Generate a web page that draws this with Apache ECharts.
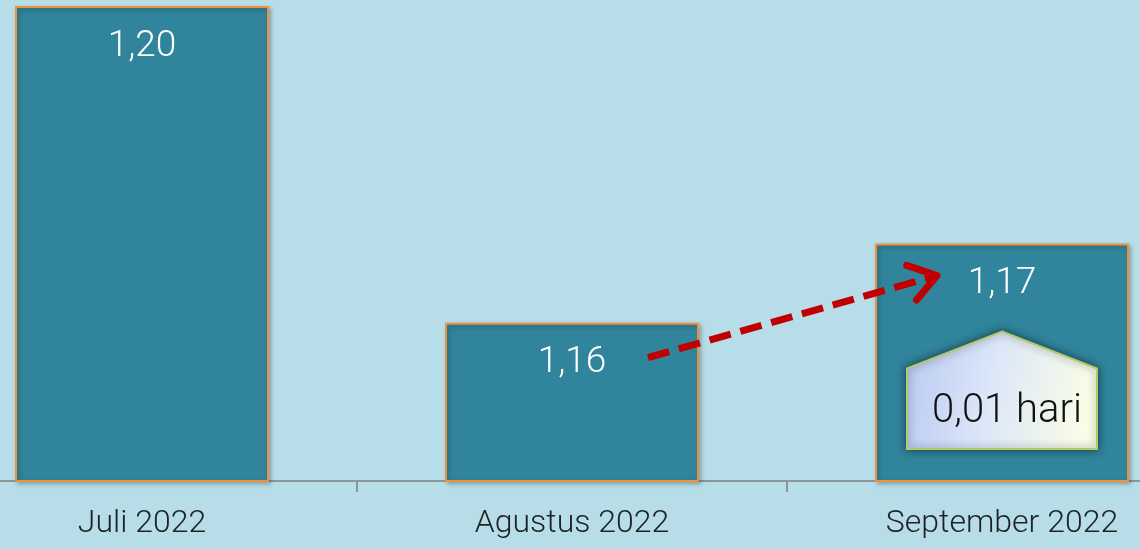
<!DOCTYPE html>
<html>
<head>
<meta charset="utf-8">
<script src="https://cdn.jsdelivr.net/npm/echarts@6/dist/echarts.min.js"></script>
<style>
html, body { margin: 0; padding: 0; background: #b7dee8; }
#main { width: 1140px; height: 549px; }
</style>
</head>
<body>
<div id="main"></div>
<script>
// data
var categories = ['Juli 2022', 'Agustus 2022', 'September 2022'];
var values = [1.20, 1.16, 1.17];
var yMin = 1.14;
var yMax = 1.20;
var changeText = '0,01 hari';

function fmt(v) {
    return v.toFixed(2).replace('.', ',');
}

var chartDom = document.getElementById('main');
var myChart = echarts.init(chartDom);
var option = {
    backgroundColor: '#b7dee8',
    animation: false,
    grid: { left: -73, right: -77, top: 6, bottom: 68, outerBoundsMode: 'none', containLabel: false },
    xAxis: {
        type: 'category',
        data: categories,
        axisLine: { lineStyle: { color: '#8c9698', width: 2 } },
        axisTick: { show: true, length: 11, lineStyle: { color: '#8c9698', width: 2 } },
        axisLabel: {
            color: '#1e2224',
            fontFamily: 'Roboto',
            fontWeight: 300,
            fontSize: 32,
            margin: 27
        }
    },
    yAxis: {
        type: 'value',
        min: yMin,
        max: yMax,
        show: false,
        splitLine: { show: false }
    },
    series: [
        {
            type: 'bar',
            data: values,
            barWidth: 254,
            itemStyle: {
                color: '#30849b',
                borderColor: '#f0903c',
                borderWidth: 2,
                shadowColor: 'rgba(0,0,0,0.25)',
                shadowBlur: 4,
                shadowOffsetX: 2,
                shadowOffsetY: 2
            },
            label: {
                show: true,
                position: 'insideTop',
                distance: 22,
                color: '#ffffff',
                fontFamily: 'Roboto',
                fontWeight: 300,
                fontSize: 37,
                formatter: function (p) { return fmt(p.value); }
            }
        }
    ]
};
option && myChart.setOption(option);

// annotations placed from the bar positions
var pA = myChart.convertToPixel({ seriesIndex: 0 }, [1, values[1]]);
var pS = myChart.convertToPixel({ seriesIndex: 0 }, [2, values[2]]);
var base = myChart.convertToPixel({ seriesIndex: 0 }, [2, yMin]);

var start = [pA[0] + 76, pA[1] + 35];
var tip = [pS[0] - 65, pS[1] + 32];
var ang = Math.atan2(tip[1] - start[1], tip[0] - start[0]);
var wing = 32, spread = 0.6;
var w1 = [tip[0] - wing * Math.cos(ang - spread), tip[1] - wing * Math.sin(ang - spread)];
var w2 = [tip[0] - wing * Math.cos(ang + spread), tip[1] - wing * Math.sin(ang + spread)];
var lineEnd = [tip[0] - 6 * Math.cos(ang), tip[1] - 6 * Math.sin(ang)];

var cx = pS[0];
var hw = 95;
var apexY = pS[1] + 88;
var shoulderY = pS[1] + 125;
var bottomY = base[1] - 32;

myChart.setOption({
    graphic: [
        {
            type: 'polyline',
            shape: { points: [start, lineEnd] },
            style: { stroke: '#c00000', lineWidth: 7, lineDash: [22, 10], lineCap: 'butt' },
            z: 10
        },
        {
            type: 'polyline',
            shape: { points: [w1, tip, w2] },
            style: { stroke: '#c00000', lineWidth: 7, lineCap: 'round', lineJoin: 'round', fill: null },
            z: 10
        },
        {
            type: 'polygon',
            shape: {
                points: [
                    [cx, apexY],
                    [cx + hw, shoulderY],
                    [cx + hw, bottomY],
                    [cx - hw, bottomY],
                    [cx - hw, shoulderY]
                ]
            },
            style: {
                fill: new echarts.graphic.LinearGradient(0, 0, 1, 0.3, [
                    { offset: 0, color: '#b9c9f2' },
                    { offset: 0.5, color: '#dde8f8' },
                    { offset: 1, color: '#fbfde6' }
                ]),
                stroke: '#b3c96a',
                lineWidth: 2,
                shadowColor: 'rgba(0,20,30,0.6)',
                shadowBlur: 8
            },
            z: 10
        },
        {
            type: 'text',
            x: cx + 5,
            y: (shoulderY + bottomY) / 2 + 3,
            style: {
                text: changeText,
                fill: '#111111',
                fontFamily: 'Roboto',
                fontWeight: 300,
                fontSize: 40,
                align: 'center',
                verticalAlign: 'middle'
            },
            z: 11
        }
    ]
});
</script>
</body>
</html>
